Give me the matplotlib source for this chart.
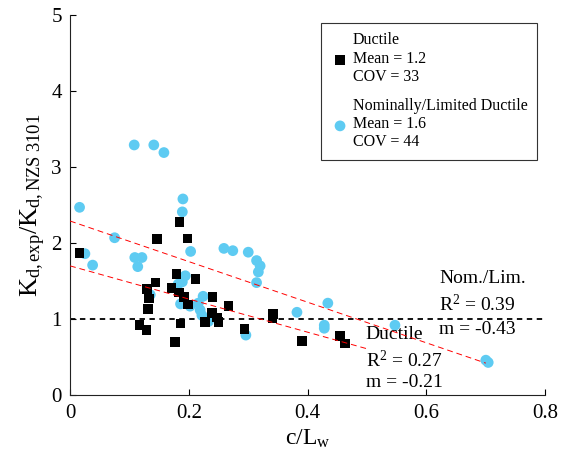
import numpy as np
import matplotlib
matplotlib.use("Agg")
import matplotlib.pyplot as plt

plt.rcParams['font.family'] = ['Liberation Serif', 'DejaVu Serif']
plt.rcParams['mathtext.fontset'] = 'custom'
plt.rcParams['mathtext.rm'] = 'Liberation Serif'
plt.rcParams['mathtext.it'] = 'Liberation Serif:italic'

# Ductile walls
ductile_x = [0.016, 0.146, 0.184, 0.198, 0.179, 0.211, 0.144, 0.130, 0.171, 0.183,
             0.192, 0.133, 0.199, 0.131, 0.240, 0.267, 0.239, 0.247, 0.227, 0.250,
             0.117, 0.129, 0.186, 0.177, 0.294, 0.342, 0.341, 0.391, 0.455, 0.463]
ductile_y = [1.87, 2.05, 2.28, 2.06, 1.59, 1.53, 1.48, 1.40, 1.41, 1.35,
             1.29, 1.27, 1.19, 1.13, 1.29, 1.17, 1.08, 1.02, 0.96, 0.96,
             0.92, 0.86, 0.94, 0.70, 0.87, 1.07, 1.01, 0.71, 0.78, 0.68]

# Nominally / limited ductile walls
nominal_x = [0.108, 0.141, 0.158, 0.190, 0.189, 0.016, 0.075, 0.025, 0.038, 0.109,
             0.121, 0.114, 0.203, 0.259, 0.274, 0.300, 0.314, 0.320, 0.317, 0.314,
             0.194, 0.189, 0.182, 0.135, 0.224, 0.186, 0.202, 0.216, 0.219, 0.222,
             0.233, 0.296, 0.382, 0.434, 0.428, 0.428, 0.547, 0.700, 0.704]
nominal_y = [3.29, 3.29, 3.19, 2.58, 2.41, 2.47, 2.07, 1.86, 1.71, 1.81,
             1.81, 1.69, 1.89, 1.93, 1.90, 1.88, 1.77, 1.70, 1.62, 1.48,
             1.57, 1.49, 1.46, 1.32, 1.30, 1.20, 1.17, 1.21, 1.12, 1.05,
             0.97, 0.79, 1.09, 1.21, 0.92, 0.88, 0.92, 0.46, 0.43]

# fitted trend lines (intercept, slope, x range)
fit_nominal = (2.29, -2.67, 0.0, 0.70)
fit_ductile = (1.70, -2.18, 0.0, 0.50)

blue = '#5ECBF2'

fig = plt.figure(figsize=(5.65, 4.66), dpi=100)
ax = fig.add_axes([0.124, 0.152, 0.841, 0.816])

ax.axhline(1.0, color='black', ls=(0, (3, 2.5)), lw=1.3, zorder=1)

for b, m, x0, x1 in (fit_nominal, fit_ductile):
    xx = np.array([x0, x1])
    ax.plot(xx, b + m * xx, color='red', ls=(0, (6, 4)), lw=0.7, zorder=4)

h2 = ax.scatter(nominal_x, nominal_y, s=60, marker='o', color=blue, edgecolor='none', zorder=2)
h1 = ax.scatter(ductile_x, ductile_y, s=48, marker='s', color='black', edgecolor='none', zorder=3)

ax.text(0.621, 1.54, 'Nom./Lim.', fontsize=14, va='center')
ax.text(0.621, 1.19, r'R$^2$ = 0.39', fontsize=14, va='center')
ax.text(0.621, 0.86, 'm = -0.43', fontsize=14, va='center')
ax.text(0.498, 0.80, 'Ductile', fontsize=14, va='center')
ax.text(0.498, 0.46, r'R$^2$ = 0.27', fontsize=14, va='center')
ax.text(0.498, 0.16, 'm = -0.21', fontsize=14, va='center')

leg = ax.legend([h1, h2],
                ['Ductile\nMean = 1.2\nCOV = 33',
                 'Nominally/Limited Ductile\nMean = 1.6\nCOV = 44'],
                loc='upper right', bbox_to_anchor=(0.983, 0.98), borderaxespad=0,
                fontsize=11.5, fancybox=False, edgecolor='#333333',
                handletextpad=0.2, handlelength=1.2, labelspacing=0.8,
                borderpad=0.6, framealpha=1)
leg.get_frame().set_linewidth(0.8)

ax.set_xlim(0, 0.8)
ax.set_ylim(0, 5)
ax.set_xticks([0, 0.2, 0.4, 0.6, 0.8])
ax.set_xticklabels(['0', '0.2', '0.4', '0.6', '0.8'])
ax.set_yticks([0, 1, 2, 3, 4, 5])
ax.tick_params(direction='in', labelsize=15, length=4, width=0.8, pad=6)
ax.spines['top'].set_visible(False)
ax.spines['right'].set_visible(False)
for s in ('left', 'bottom'):
    ax.spines[s].set_linewidth(0.8)
    ax.spines[s].set_color('#222222')

ax.set_xlabel(r'$\mathrm{c/L_w}$', fontsize=17, labelpad=4)
ax.set_ylabel(r'$\mathrm{K_{d,exp}/K_{d,NZS\ 3101}}$', fontsize=19, labelpad=2)

fig.savefig('out.png', dpi=100)
